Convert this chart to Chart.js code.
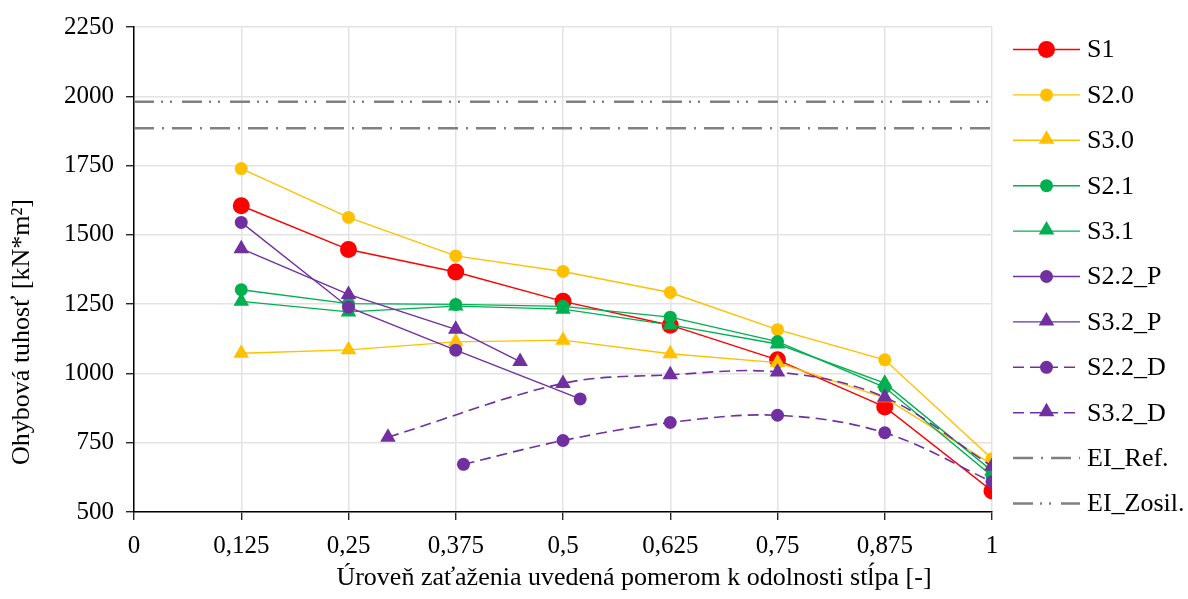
<!DOCTYPE html>
<html>
<head>
<meta charset="utf-8">
<title>Ohybová tuhosť</title>
<script src="https://cdn.jsdelivr.net/npm/chart.js@4/dist/chart.umd.min.js"></script>
<style>
  html, body { margin: 0; padding: 0; background: #fff; }
  #wrap { width: 1188px; height: 599px; position: relative; }
</style>
</head>
<body>
<div id="wrap"><canvas id="c" width="1188" height="599"></canvas></div>
<script>
// Load level (ratio to column resistance) and flexural stiffness [kN*m2]
const xTicks = [0, 0.125, 0.25, 0.375, 0.5, 0.625, 0.75, 0.875, 1];
const xTickLabels = ['0', '0,125', '0,25', '0,375', '0,5', '0,625', '0,75', '0,875', '1'];
const yTicks = [500, 750, 1000, 1250, 1500, 1750, 2000, 2250];
const yTickLabels = ['500', '750', '1000', '1250', '1500', '1750', '2000', '2250'];
const xLevels = [0.125, 0.25, 0.375, 0.5, 0.625, 0.75, 0.875, 1];

const s1  = [1605, 1447, 1366, 1260, 1174, 1049, 879, 576];
const s20 = [1739, 1563, 1424, 1368, 1292, 1158, 1049, 692];
const s30 = [1073, 1085, 1114, 1120, 1071, 1039, 912, 672];
const s21 = [1302, 1252, 1249, 1242, 1203, 1115, 950, 630];
const s31 = [1260, 1222, 1243, 1232, 1175, 1106, 965, 648];

const s22pX = [0.125, 0.25, 0.375, 0.52];
const s22p  = [1545, 1239, 1084, 908];
const s32pX = [0.125, 0.25, 0.375, 0.45];
const s32p  = [1450, 1285, 1159, 1043];

const s22dX = [0.384, 0.5, 0.625, 0.75, 0.875, 1];
const s22d  = [672, 758, 823, 849, 786, 609];
const s32dX = [0.296, 0.5, 0.625, 0.75, 0.875, 1];
const s32d  = [770, 964, 995, 1005, 914, 665];

const eiRef = 1885;
const eiZosil = 1980;

const xTitle = 'Úroveň zaťaženia uvedená pomerom k odolnosti stĺpa [-]';
const yTitle = 'Ohybová tuhosť [kN*m²]';

const RED = '#FF0000', ORANGE = '#FFC000', GREEN = '#00B050', PURPLE = '#7030A0', GREY = '#808080';
const DASH_REF = [20, 8, 2, 8];
const DASH_ZOSIL = [20, 7, 2, 7, 2, 10];
const DASH_PURPLE = [11, 6];

const pts = (xs, ys) => xs.map((x, i) => ({ x: x, y: ys[i] }));

function series(label, xs, ys, color, style, radius, extra) {
  return Object.assign({
    label: label,
    data: pts(xs, ys),
    borderColor: color,
    backgroundColor: color,
    pointBackgroundColor: color,
    pointBorderColor: color,
    pointBorderWidth: 0,
    pointStyle: style,
    pointRadius: radius,
    borderWidth: 1.4,
    tension: 0
  }, extra || {});
}

const datasets = [
  series('S1', xLevels, s1, RED, 'circle', 8.5),
  series('S2.0', xLevels, s20, ORANGE, 'circle', 6.5),
  series('S3.0', xLevels, s30, ORANGE, 'triangle', 9),
  series('S2.1', xLevels, s21, GREEN, 'circle', 6.5),
  series('S3.1', xLevels, s31, GREEN, 'triangle', 9),
  series('S2.2_P', s22pX, s22p, PURPLE, 'circle', 6.5),
  series('S3.2_P', s32pX, s32p, PURPLE, 'triangle', 9),
  series('S2.2_D', s22dX, s22d, PURPLE, 'circle', 6.5, { borderDash: DASH_PURPLE, tension: 0.35, borderWidth: 1.6 }),
  series('S3.2_D', s32dX, s32d, PURPLE, 'triangle', 9, { borderDash: DASH_PURPLE, tension: 0.35, borderWidth: 1.6 }),
  series('EI_Ref.', [0, 1], [eiRef, eiRef], GREY, false, 0, { borderDash: DASH_REF, borderWidth: 2.5 }),
  series('EI_Zosil.', [0, 1], [eiZosil, eiZosil], GREY, false, 0, { borderDash: DASH_ZOSIL, borderWidth: 2.5 })
];
// later series are painted over earlier ones
datasets.forEach((d, i) => { d.order = datasets.length - i; });

const FONT = "'Liberation Serif', 'Times New Roman', serif";
const TICK_SIZE = 25;
const TEXT_SIZE = 26;

function drawMarker(ctx, style, x, y, r, color) {
  ctx.save();
  ctx.fillStyle = color;
  ctx.beginPath();
  if (style === 'circle') {
    ctx.arc(x, y, r, 0, Math.PI * 2);
  } else if (style === 'triangle') {
    let a = 0;
    ctx.moveTo(x + Math.sin(a) * r, y - Math.cos(a) * r);
    a += 2 * Math.PI / 3;
    ctx.lineTo(x + Math.sin(a) * r, y - Math.cos(a) * r);
    a += 2 * Math.PI / 3;
    ctx.lineTo(x + Math.sin(a) * r, y - Math.cos(a) * r);
    ctx.closePath();
  }
  ctx.fill();
  ctx.restore();
}

// Legend on the right: line sample with marker, then the label
const sideLegend = {
  id: 'sideLegend',
  afterDraw(chart) {
    const ctx = chart.ctx;
    const x0 = 1013, x1 = 1080, tx = 1087;
    const y0 = 49.5, step = 45.4;
    chart.data.datasets.forEach((d, i) => {
      const y = y0 + i * step;
      ctx.save();
      ctx.strokeStyle = d.borderColor;
      ctx.lineWidth = d.borderWidth;
      ctx.setLineDash(d.borderDash || []);
      ctx.beginPath();
      ctx.moveTo(x0, y);
      ctx.lineTo(x1, y);
      ctx.stroke();
      ctx.restore();
      if (d.pointStyle) {
        const yy = d.pointStyle === 'triangle' ? y - 1 : y;
        drawMarker(ctx, d.pointStyle, (x0 + x1) / 2, yy, d.pointRadius, d.borderColor);
      }
      ctx.save();
      ctx.fillStyle = '#000';
      ctx.font = TEXT_SIZE + 'px ' + FONT;
      ctx.textBaseline = 'middle';
      ctx.fillText(d.label, tx, y + 1);
      ctx.restore();
    });
  }
};

// Axis titles
const axisTitles = {
  id: 'axisTitles',
  afterDraw(chart) {
    const ctx = chart.ctx;
    ctx.save();
    ctx.fillStyle = '#000';
    ctx.font = TEXT_SIZE + 'px ' + FONT;
    ctx.textAlign = 'center';
    ctx.textBaseline = 'middle';
    ctx.fillText(xTitle, 634, 578);
    ctx.translate(22, 332);
    ctx.rotate(-Math.PI / 2);
    ctx.fillText(yTitle, 0, 0);
    ctx.restore();
  }
};

new Chart(document.getElementById('c'), {
  type: 'line',
  data: { datasets: datasets },
  plugins: [sideLegend, axisTitles],
  options: {
    responsive: false,
    animation: false,
    layout: { padding: { left: 0, right: 196, top: 24, bottom: 0 } },
    plugins: {
      legend: { display: false },
      tooltip: { enabled: false }
    },
    scales: {
      x: {
        type: 'linear',
        min: 0,
        max: 1,
        afterBuildTicks(scale) { scale.ticks = xTicks.map(v => ({ value: v })); },
        afterFit(scale) { scale.height = 87; },
        ticks: {
          color: '#000',
          font: { family: FONT, size: TICK_SIZE },
          padding: 11,
          maxRotation: 0,
          autoSkip: false,
          callback(value) {
            const i = xTicks.indexOf(value);
            return i >= 0 ? xTickLabels[i] : '';
          }
        },
        grid: { color: '#e3e3e3', lineWidth: 1.5, tickColor: '#000', tickLength: 8, tickWidth: 1.2 },
        border: { color: '#000', width: 1.5 }
      },
      y: {
        type: 'linear',
        min: 500,
        max: 2250,
        afterBuildTicks(scale) { scale.ticks = yTicks.map(v => ({ value: v })); },
        afterFit(scale) { scale.width = 134; },
        ticks: {
          color: '#000',
          font: { family: FONT, size: TICK_SIZE },
          padding: 12,
          callback(value) {
            const i = yTicks.indexOf(value);
            return i >= 0 ? yTickLabels[i] : '';
          }
        },
        grid: { color: '#e3e3e3', lineWidth: 1.5, tickColor: '#000', tickLength: 8, tickWidth: 1.2 },
        border: { color: '#000', width: 1.5 }
      }
    }
  }
});
</script>
</body>
</html>
